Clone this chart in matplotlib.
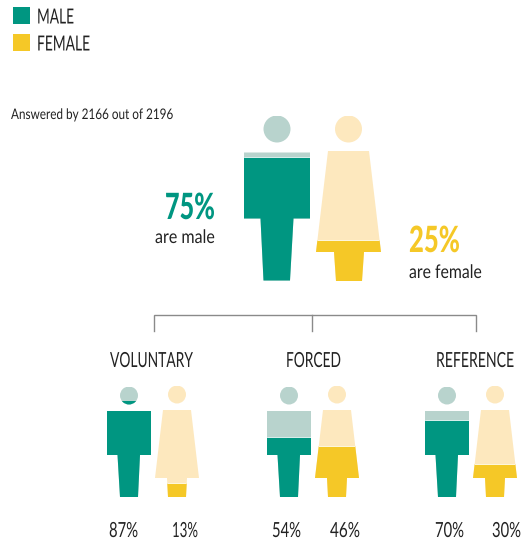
import matplotlib
matplotlib.use("Agg")
import matplotlib.pyplot as plt
from matplotlib.patches import Ellipse, Polygon, Rectangle
from matplotlib.patheffects import AbstractPathEffect
from matplotlib.transforms import Affine2D

W, H = 527, 545
TEAL, TEAL_L, YEL, YEL_L = "#009681", "#b8d3cd", "#f5c827", "#fde8be"
INK = "#222222"
plt.rcParams["font.family"] = ["Lato", "DejaVu Sans"]

# data
legend_labels = ["MALE", "FEMALE"]
note = "Answered by 2166 out of 2196"
overall_male = 75
overall_female = 25
groups = ["VOLUNTARY", "FORCED", "REFERENCE"]
male_pct = [87, 54, 70]
female_pct = [13, 46, 30]

fig = plt.figure(figsize=(W / 100, H / 100), dpi=100)
bg = fig.add_axes([0, 0, 1, 1])
bg.set_xlim(0, W)
bg.set_ylim(H, 0)
bg.axis("off")
renderer = fig.canvas.get_renderer()


class Squeeze(AbstractPathEffect):
    """Narrows a text horizontally about its anchor: the font on hand is wider than the original."""

    def __init__(self, x0, sx):
        super().__init__()
        self.x0, self.sx = x0, sx

    def draw_path(self, renderer, gc, tpath, affine, rgbFace=None):
        squeeze = Affine2D().translate(-self.x0, 0).scale(self.sx, 1).translate(self.x0, 0)
        renderer.draw_path(gc, tpath, affine + squeeze, rgbFace)


def label(x0, x1, baseline, s, size, color=INK, weight="normal"):
    # texts in the right half hang from their right end, so the unsqueezed box stays on the canvas
    right = x0 > W / 2
    anchor = x1 if right else x0
    t = bg.text(anchor, baseline, s, fontsize=size, color=color, fontweight=weight,
                ha="right" if right else "left", va="baseline")
    sx = (x1 - x0) / t.get_window_extent(renderer).width
    t.set_path_effects([Squeeze(anchor, sx)])
    return t


def person(x0, x1, y0, y1, pct, body, head, dark, light):
    """x0..x1, y0..y1 bound the icon in pixels; body is in unit x, pct y; pct drives the fill."""
    ax = fig.add_axes([x0 / W, 1 - y1 / H, (x1 - x0) / W, (y1 - y0) / H])
    ax.set_xlim(0, 1)
    ax.set_ylim(0, 100)
    ax.axis("off")
    rx = head[2] / (x1 - x0)
    ry = head[2] / (y1 - y0) * 100
    ax.add_patch(Polygon(body, closed=True, fc=light, ec="none"))
    ax.add_patch(Ellipse(head[:2], 2 * rx, 2 * ry, fc=light, ec="none"))
    for clip in (Polygon(body, closed=True, transform=ax.transData),
                 Ellipse(head[:2], 2 * rx, 2 * ry, transform=ax.transData)):
        b = ax.bar(0.5, pct, width=1, color=dark, linewidth=0)[0]
        b.set_clip_path(clip)
    line = ax.plot([0, 1], [pct, pct], color="white", lw=0.6)[0]
    line.set_clip_path(Polygon(body, closed=True, transform=ax.transData))


def male(x0, x1, y0, y1, pct, headr, bt, bb, lx0, lx1, fx0, fx1):
    w, h = x1 - x0, y1 - y0
    ux = lambda px: (px - x0) / w
    uy = lambda py: (y1 - py) / h * 100
    body = [(0, uy(bt)), (1, uy(bt)), (1, uy(bb)), (ux(lx1), uy(bb)), (ux(fx1), 0),
            (ux(fx0), 0), (ux(lx0), uy(bb)), (0, uy(bb))]
    person(x0, x1, y0, y1, pct, body, (0.5, uy(y0 + headr), headr), TEAL, TEAL_L)


def female(x0, x1, y0, y1, pct, headr, bt, bb, tx0, tx1, lx0, lx1, fx0, fx1):
    w, h = x1 - x0, y1 - y0
    ux = lambda px: (px - x0) / w
    uy = lambda py: (y1 - py) / h * 100
    body = [(ux(tx0), uy(bt)), (ux(tx1), uy(bt)), (1, uy(bb)), (ux(lx1), uy(bb)), (ux(fx1), 0),
            (ux(fx0), 0), (ux(lx0), uy(bb)), (0, uy(bb))]
    person(x0, x1, y0, y1, pct, body, (0.5, uy(y0 + headr), headr), YEL, YEL_L)


# overall
male(244, 310, 115.5, 280.5, overall_male, 13.5, 152.5, 218.5, 260.5, 293.5, 263.5, 290)
female(316, 381, 115.5, 281, overall_female, 13.5, 151, 252, 328, 369, 334, 364, 336, 362)

# groups
male_x = [107, 267, 425]
female_x = [155, 315, 473]
for mx, fx, mp, fp in zip(male_x, female_x, male_pct, female_pct):
    male(mx, mx + 44, 386.5, 497, mp, 9, 411, 455, mx + 10.5, mx + 33, mx + 13, mx + 31)
    female(fx, fx + 44, 385.5, 497, fp, 9, 410, 478, fx + 8, fx + 36, fx + 12, fx + 32, fx + 13, fx + 31)

# legend
bg.add_patch(Rectangle((13, 7), 17, 17, fc=TEAL, ec="none"))
bg.add_patch(Rectangle((13, 34), 17, 17, fc=YEL, ec="none"))
label(37, 74, 23.5, legend_labels[0], 15)
label(37, 90, 50.5, legend_labels[1], 15)
label(11, 174, 119, note, 10.5)

# overall labels
label(165, 215, 219, f"{overall_male}%", 26, TEAL, "black")
label(155, 215, 243, "are male", 13.5)
label(409, 460, 252, f"{overall_female}%", 26, YEL, "black")
label(409, 482, 278, "are female", 13.5)

# connector
bg.plot([153.5, 153.5, 476, 476], [331, 315, 315, 331], color="#8a8a8a", lw=1, solid_joinstyle="miter")
bg.plot([312, 312], [315, 331], color="#8a8a8a", lw=1)

# group labels
for name, (a, b) in zip(groups, [(110, 193), (286, 341), (436, 514)]):
    label(a, b, 367, name, 15)
for v, (a, b) in zip(male_pct, [(109, 138), (272, 301), (435, 464)]):
    label(a, b, 537, f"{v}%", 15)
for v, (a, b) in zip(female_pct, [(172, 198), (330, 360), (492, 521)]):
    label(a, b, 537, f"{v}%", 15)

fig.savefig("out.png", dpi=100, facecolor="white")
